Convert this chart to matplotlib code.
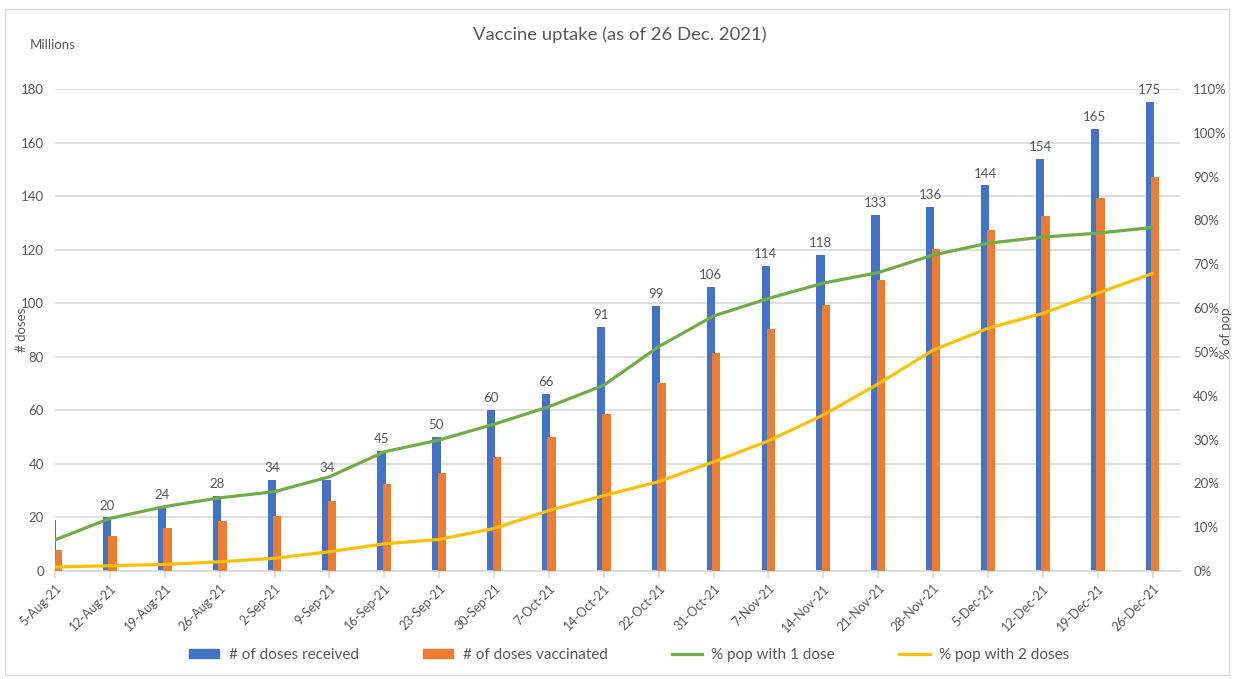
import matplotlib
matplotlib.use("Agg")
import matplotlib.pyplot as plt
import numpy as np
from matplotlib.ticker import FuncFormatter, MultipleLocator
from matplotlib.patches import Rectangle

plt.rcParams['font.family'] = ['Lato', 'DejaVu Sans']

dates = ["5-Aug-21", "12-Aug-21", "19-Aug-21", "26-Aug-21", "2-Sep-21", "9-Sep-21",
         "16-Sep-21", "23-Sep-21", "30-Sep-21", "7-Oct-21", "14-Oct-21", "22-Oct-21",
         "31-Oct-21", "7-Nov-21", "14-Nov-21", "21-Nov-21", "28-Nov-21", "5-Dec-21",
         "12-Dec-21", "19-Dec-21", "26-Dec-21"]
doses_received = [19, 20, 24, 28, 34, 34, 45, 50, 60, 66, 91, 99, 106, 114, 118,
                  133, 136, 144, 154, 165, 175]
doses_vaccinated = [8, 13, 16, 18.5, 20.5, 26, 32.6, 36.5, 42.5, 50.2, 58.8, 70.3,
                    81.5, 90.3, 99.5, 108.8, 120.2, 127.5, 132.7, 139.3, 147]
pct_one_dose = [7.1, 12.0, 14.7, 16.7, 18.1, 21.5, 27.2, 29.9, 33.5, 37.5, 42.4, 51.2,
                58.2, 62.2, 65.7, 68.1, 72.1, 74.8, 76.2, 77.1, 78.4]
pct_two_doses = [0.9, 1.2, 1.5, 2.1, 2.9, 4.4, 6.2, 7.2, 9.7, 13.8, 17.2, 20.4,
                 24.9, 29.7, 35.6, 42.7, 50.4, 55.4, 58.8, 63.4, 67.9]

BLUE = "#4472C4"
ORANGE = "#ED7D31"
GREEN = "#70AD47"
YELLOW = "#FFC000"
TXT = "#595959"
GRID = "#D9D9D9"

W, H = 1234, 679
fig = plt.figure(figsize=(W / 100, H / 100), dpi=100)
ax = fig.add_axes([55 / W, 1 - 571 / H, (1180 - 55) / W, (571 - 89) / H])
ax2 = ax.twinx()

x = np.arange(len(dates))
bw = 0.152
off = 0.05
ax.bar(x - off, doses_received, width=bw, color=BLUE, zorder=2)
ax.bar(x + off, doses_vaccinated, width=bw, color=ORANGE, zorder=3)

ax.set_xlim(0, len(dates) - 0.5)
ax.set_ylim(0, 180)
ax.yaxis.set_major_locator(MultipleLocator(20))
ax.grid(axis='y', color=GRID, linewidth=1.2, zorder=0)
ax.set_axisbelow(True)

for xi, v in zip(x, doses_received):
    if xi - off >= ax.get_xlim()[0]:
        ax.text(xi - off, v + 2.2, f"{v:g}", ha='center', va='bottom',
                fontsize=9.5, color=TXT, zorder=5)

ax2.plot(x, np.array(pct_one_dose) / 100, color=GREEN, lw=2.3, zorder=4,
         solid_capstyle='round', solid_joinstyle='round')
ax2.plot(x, np.array(pct_two_doses) / 100, color=YELLOW, lw=2.3, zorder=4,
         solid_capstyle='round', solid_joinstyle='round')
ax2.set_ylim(0, 1.1)
ax2.yaxis.set_major_locator(MultipleLocator(0.1))
ax2.yaxis.set_major_formatter(FuncFormatter(lambda v, p: f"{v * 100:.0f}%"))

ax.set_xticks(x)
ax.set_xticklabels(dates, rotation=45, ha='right', rotation_mode='anchor',
                   fontsize=9, color=TXT)
ax.tick_params(axis='x', length=5, color=GRID, width=1.2, pad=3)
ax.tick_params(axis='y', length=0, labelsize=9.5, labelcolor=TXT, pad=8)
ax2.tick_params(axis='y', length=0, labelsize=9.5, labelcolor=TXT, pad=9.5)

for a in (ax, ax2):
    for s in ('top', 'left', 'right'):
        a.spines[s].set_visible(False)
ax.spines['bottom'].set_color(GRID)
ax.spines['bottom'].set_linewidth(1.2)
ax2.spines['bottom'].set_visible(False)

fig.text(620 / W, 1 - 35 / H, "Vaccine uptake (as of 26 Dec. 2021)", ha='center',
         va='center', fontsize=13.3, color=TXT)
fig.text(30 / W, 1 - 45 / H, "Millions", ha='left', va='center', fontsize=9.5, color=TXT)
fig.text(22 / W, 1 - 330 / H, "# doses", ha='center', va='center', rotation=90,
         fontsize=9.5, color=TXT)
fig.text(1226 / W, 1 - 333 / H, "% of pop", ha='center', va='center', rotation=90,
         fontsize=9.5, color=TXT)

# legend
handles = [Rectangle((0, 0), 1, 1, color=BLUE), Rectangle((0, 0), 1, 1, color=ORANGE),
           plt.Line2D([], [], color=GREEN, lw=2.3), plt.Line2D([], [], color=YELLOW, lw=2.3)]
labels = ["# of doses received", "# of doses vaccinated", "% pop with 1 dose",
          "% pop with 2 doses"]
fig.legend(handles, labels, loc='center', bbox_to_anchor=(629 / W, 1 - 655 / H),
           ncol=4, frameon=False, fontsize=11, labelcolor=TXT, columnspacing=4.2,
           handlelength=2.0, handleheight=0.6, handletextpad=0.6)

fig.patches.append(Rectangle((5 / W, 4 / H), 1224 / W, (675 - 9) / H,
                             transform=fig.transFigure, fill=False,
                             edgecolor=GRID, linewidth=1.0))

fig.savefig("out.png", dpi=100)
